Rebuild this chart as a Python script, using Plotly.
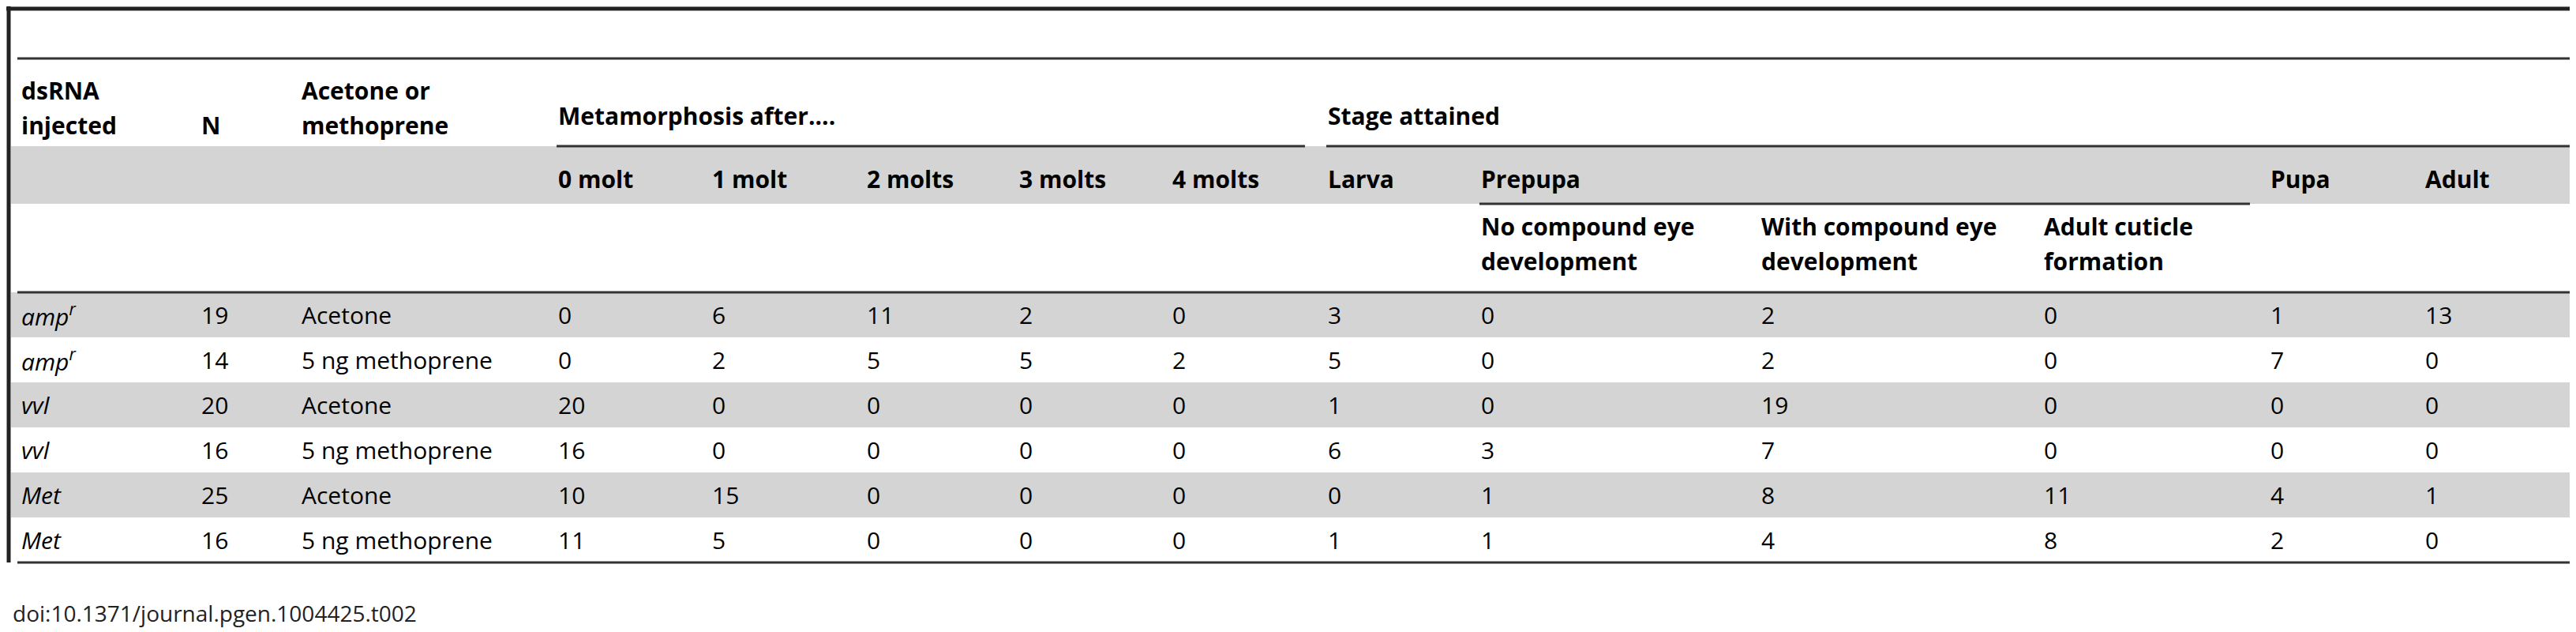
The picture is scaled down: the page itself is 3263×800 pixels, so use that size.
import plotly.graph_objects as go

# Table data
dsrna = ['<i>amp</i><sup><i>r</i></sup>', '<i>amp</i><sup><i>r</i></sup>', '<i>vvl</i>', '<i>vvl</i>', '<i>Met</i>', '<i>Met</i>']
n_values = [19, 14, 20, 16, 25, 16]
treatment = ['Acetone', '5 ng methoprene', 'Acetone', '5 ng methoprene', 'Acetone', '5 ng methoprene']
molt0 = [0, 0, 20, 16, 10, 11]
molt1 = [6, 2, 0, 0, 15, 5]
molt2 = [11, 5, 0, 0, 0, 0]
molt3 = [2, 5, 0, 0, 0, 0]
molt4 = [0, 2, 0, 0, 0, 0]
larva = [3, 5, 1, 6, 0, 1]
no_eye = [0, 0, 0, 3, 1, 1]
with_eye = [2, 2, 19, 7, 8, 4]
cuticle = [0, 0, 0, 0, 11, 8]
pupa = [1, 7, 0, 0, 4, 2]
adult = [13, 0, 0, 0, 1, 0]

sub_headers = ['0 molt', '1 molt', '2 molts', '3 molts', '4 molts', 'Larva', 'Prepupa']
doi = 'doi:10.1371/journal.pgen.1004425.t002'

# Layout (pixels)
W, H = 3263, 800
col_x = [17, 245, 372, 697, 892, 1088, 1281, 1475, 1672, 1866, 2221, 2579, 2866, 3062]
row_top = 362
row_h = 57
gray = '#d4d4d4'
line_col = '#333333'
font = 'Open Sans'
fs = 30
gap = 22  # half line spacing for two-line headers

fig = go.Figure()
shapes = []
ann = []

def text(x, y, s, bold=False, size=fs):
    ann.append(dict(x=x, y=y, text=('<b>%s</b>' % s) if bold else s, showarrow=False,
                    xanchor='left', yanchor='middle', align='left',
                    font=dict(family=font, size=size, color='black')))

def text2(x, y, a, b):
    text(x, y - gap, a, bold=True)
    text(x, y + gap, b, bold=True)

def hline(y, x0, x1, w=2, c=line_col):
    shapes.append(dict(type='line', x0=x0, x1=x1, y0=y, y1=y, line=dict(color=c, width=w)))

# gray header band
shapes.append(dict(type='rect', x0=6, x1=W, y0=177, y1=250, fillcolor=gray, line_width=0, layer='below'))

# data rows
columns = [dsrna, n_values, treatment, molt0, molt1, molt2, molt3, molt4,
           larva, no_eye, with_eye, cuticle, pupa, adult]
for i in range(len(dsrna)):
    y0 = row_top + i * row_h
    if i % 2 == 0:
        shapes.append(dict(type='rect', x0=6, x1=W, y0=y0, y1=y0 + row_h,
                           fillcolor=gray, line_width=0, layer='below'))
    for j, col in enumerate(columns):
        text(col_x[j], y0 + row_h / 2, str(col[i]))

# header rows
text2(col_x[0], 128, 'dsRNA', 'injected')
text(col_x[1], 150, 'N', bold=True)
text2(col_x[2], 128, 'Acetone or', 'methoprene')
text(col_x[3], 138, 'Metamorphosis after....', bold=True)
text(col_x[8], 138, 'Stage attained', bold=True)
for j, s in enumerate(sub_headers):
    text(col_x[3 + j], 218, s, bold=True)
text(col_x[12], 218, 'Pupa', bold=True)
text(col_x[13], 218, 'Adult', bold=True)
text2(col_x[9], 300, 'No compound eye', 'development')
text2(col_x[10], 300, 'With compound eye', 'development')
text2(col_x[11], 300, 'Adult cuticle', 'formation')

ann.append(dict(x=6, y=768, text=doi, showarrow=False, xanchor='left', yanchor='middle',
                font=dict(family=font, size=28, color='#222222')))

# rules
hline(3, 0, W, w=5, c='#222222')
hline(66, 14, W, w=3)
hline(177, col_x[3], 1645, w=3)
hline(177, col_x[8], W, w=3)
hline(250, col_x[9], 2842, w=3)
hline(row_top, 14, W, w=3)
hline(row_top + len(dsrna) * row_h, 14, W, w=3)
shapes.append(dict(type='line', x0=3, x1=3, y0=0, y1=row_top + len(dsrna) * row_h,
                   line=dict(color='#222222', width=5)))

fig.update_layout(width=W, height=H, margin=dict(l=0, r=0, t=0, b=0),
                  plot_bgcolor='white', paper_bgcolor='white',
                  shapes=shapes, annotations=ann, showlegend=False)
fig.update_xaxes(range=[0, W], visible=False)
fig.update_yaxes(range=[H, 0], visible=False)
fig.write_html('out.html')
